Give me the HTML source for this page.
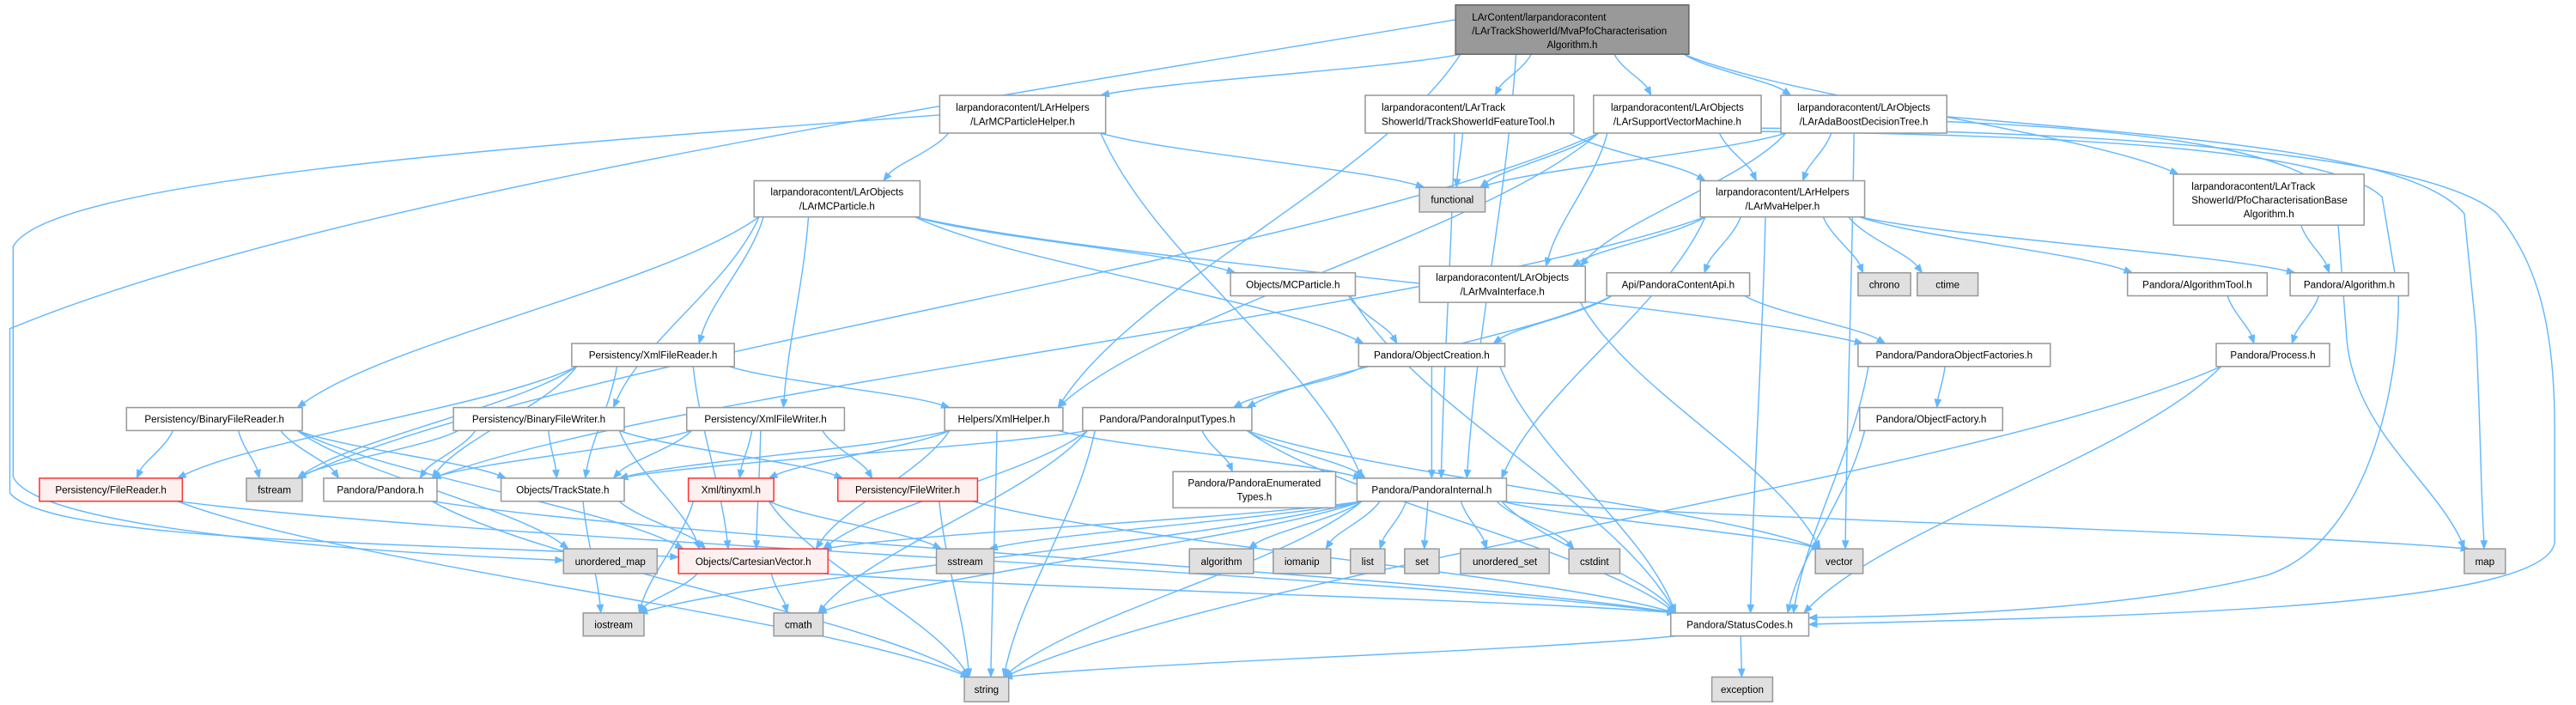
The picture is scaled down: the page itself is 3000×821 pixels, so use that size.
<!DOCTYPE html>
<html><head><meta charset="utf-8"><style>
html,body{margin:0;padding:0;background:#fff;}
svg{display:block;}
text{font-family:"Liberation Sans",Arial,sans-serif;font-size:6.1px;fill:#000;}
</style></head><body>
<svg id="g" xmlns="http://www.w3.org/2000/svg" width="3000" height="821" viewBox="0 0 1568 429" preserveAspectRatio="none">
<g id="edges"></g>
<g id="nodes">
<rect x="886" y="3" width="142" height="30" fill="#999" stroke="#666" stroke-width="0.8"/>
<text x="896" y="12.5">LArContent/larpandoracontent</text><text x="896" y="20.9">/LArTrackShowerId/MvaPfoCharacterisation</text><text x="957" y="29.3" text-anchor="middle">Algorithm.h</text>
<rect x="572" y="58" width="101" height="23" fill="#fff" stroke="#999" stroke-width="0.8"/>
<text x="622.5" y="67.5" text-anchor="middle">larpandoracontent/LArHelpers</text><text x="622.5" y="75.9" text-anchor="middle">/LArMCParticleHelper.h</text>
<rect x="831" y="58" width="127" height="23" fill="#fff" stroke="#999" stroke-width="0.8"/>
<text x="841" y="67.5">larpandoracontent/LArTrack</text><text x="841" y="75.9">ShowerId/TrackShowerIdFeatureTool.h</text>
<rect x="970" y="58" width="102" height="23" fill="#fff" stroke="#999" stroke-width="0.8"/>
<text x="1021" y="67.5" text-anchor="middle">larpandoracontent/LArObjects</text><text x="1021" y="75.9" text-anchor="middle">/LArSupportVectorMachine.h</text>
<rect x="1084" y="58" width="101" height="23" fill="#fff" stroke="#999" stroke-width="0.8"/>
<text x="1134.5" y="67.5" text-anchor="middle">larpandoracontent/LArObjects</text><text x="1134.5" y="75.9" text-anchor="middle">/LArAdaBoostDecisionTree.h</text>
<rect x="1323" y="106" width="116" height="31" fill="#fff" stroke="#999" stroke-width="0.8"/>
<text x="1334" y="115.5">larpandoracontent/LArTrack</text><text x="1334" y="123.9">ShowerId/PfoCharacterisationBase</text><text x="1381" y="132.3" text-anchor="middle">Algorithm.h</text>
<rect x="459" y="110" width="101" height="22" fill="#fff" stroke="#999" stroke-width="0.8"/>
<text x="509.5" y="119" text-anchor="middle">larpandoracontent/LArObjects</text><text x="509.5" y="127.4" text-anchor="middle">/LArMCParticle.h</text>
<rect x="1035" y="110" width="100" height="22" fill="#fff" stroke="#999" stroke-width="0.8"/>
<text x="1085" y="119" text-anchor="middle">larpandoracontent/LArHelpers</text><text x="1085" y="127.4" text-anchor="middle">/LArMvaHelper.h</text>
<rect x="864" y="162" width="101" height="22" fill="#fff" stroke="#999" stroke-width="0.8"/>
<text x="914.5" y="171" text-anchor="middle">larpandoracontent/LArObjects</text><text x="914.5" y="179.4" text-anchor="middle">/LArMvaInterface.h</text>
<rect x="714" y="287" width="99" height="22" fill="#fff" stroke="#999" stroke-width="0.8"/>
<text x="763.5" y="296" text-anchor="middle">Pandora/PandoraEnumerated</text><text x="763.5" y="304.4" text-anchor="middle">Types.h</text>
</g>
</svg>
<script>
var N={
mcpart:[749,166,825,180,'w','Objects/MCParticle.h'],
func:[864,114,904,129,'g','functional'],
api:[978,166,1065,180,'w','Api/PandoraContentApi.h'],
chrono:[1131,166,1163,180,'g','chrono'],
ctime:[1167,166,1204,180,'g','ctime'],
algt:[1295,166,1380,180,'w','Pandora/AlgorithmTool.h'],
alg:[1394,166,1466,180,'w','Pandora/Algorithm.h'],
xfr:[348,209,447,223,'w','Persistency/XmlFileReader.h'],
objc:[827,209,916,223,'w','Pandora/ObjectCreation.h'],
pof:[1131,209,1248,223,'w','Pandora/PandoraObjectFactories.h'],
proc:[1349,209,1418,223,'w','Pandora/Process.h'],
bfr:[77,248,184,262,'w','Persistency/BinaryFileReader.h'],
bfw:[276,248,380,262,'w','Persistency/BinaryFileWriter.h'],
xfw:[418,248,514,262,'w','Persistency/XmlFileWriter.h'],
xh:[575,248,647,262,'w','Helpers/XmlHelper.h'],
pit:[659,248,762,262,'w','Pandora/PandoraInputTypes.h'],
of:[1132,248,1219,262,'w','Pandora/ObjectFactory.h'],
fr:[24,291,111,305,'r','Persistency/FileReader.h'],
fstream:[150,291,184,305,'g','fstream'],
pandora:[197,291,266,305,'w','Pandora/Pandora.h'],
ts:[305,291,380,305,'w','Objects/TrackState.h'],
tiny:[419,291,471,305,'r','Xml/tinyxml.h'],
fw:[510,291,595,305,'r','Persistency/FileWriter.h'],
pint:[826,291,917,305,'w','Pandora/PandoraInternal.h'],
umap:[343,334,400,349,'g','unordered_map'],
cv:[413,334,504,349,'r','Objects/CartesianVector.h'],
sstream:[570,334,605,349,'g','sstream'],
algo:[724,334,763,349,'g','algorithm'],
iomanip:[775,334,810,349,'g','iomanip'],
list:[822,334,843,349,'g','list'],
set:[855,334,876,349,'g','set'],
uset:[889,334,943,349,'g','unordered_set'],
cstdint:[955,334,986,349,'g','cstdint'],
vector:[1105,334,1134,349,'g','vector'],
map:[1500,334,1525,349,'g','map'],
iostream:[355,373,392,387,'g','iostream'],
cmath:[471,373,501,387,'g','cmath'],
sc:[1017,373,1101,387,'w','Pandora/StatusCodes.h'],
string:[587,412,614,427,'g','string'],
exc:[1042,412,1079,427,'g','exception']
};
var B={root:[886,3,1028,33],mcph:[572,58,673,81],tsft:[831,58,958,81],svm:[970,58,1072,81],ada:[1084,58,1185,81],pfob:[1323,106,1439,137],mcp:[459,110,560,132],mvah:[1035,110,1135,132],mvai:[864,162,965,184],penum:[714,287,813,309]};
for(var k in N)B[k]=N[k];
var NS='http://www.w3.org/2000/svg';
var ng=document.getElementById('nodes'),eg=document.getElementById('edges');
function el(t,a,p){var e=document.createElementNS(NS,t);for(var i in a)e.setAttribute(i,a[i]);p.appendChild(e);return e;}
for(var k in N){var n=N[k];var f={w:'#fff',g:'#e0e0e0',r:'#fff0f0'}[n[4]],s={w:'#999',g:'#999',r:'#f33'}[n[4]];
el('rect',{x:n[0],y:n[1],width:n[2]-n[0],height:n[3]-n[1],fill:f,stroke:s,'stroke-width':0.8},ng);
var t=el('text',{x:(n[0]+n[2])/2,y:(n[1]+n[3])/2+2.2,'text-anchor':'middle'},ng);t.textContent=n[5];}
var E=[
['root','mcph'],['root','tsft'],['root','svm'],['root','ada'],['root','pfob'],['root','pint'],['root','xh'],
['mcph','mcp'],['mcph','func'],['mcph','pint'],
['mcp','bfr'],['mcp','bfw'],['mcp','xfr'],['mcp','xfw'],['mcp','mcpart'],['mcp','objc'],['mcp','pof'],
['tsft','func'],['tsft','mvah'],['tsft','pint'],
['svm','func'],['svm','mvah'],['svm','mvai'],['svm','xh'],['svm','fstream'],
['ada','func'],['ada','mvah'],['ada','mvai'],['ada','vector'],
['pfob','alg'],
['mvah','mvai'],['mvah','api'],['mvah','chrono'],['mvah','ctime'],['mvah','algt'],['mvah','alg'],['mvah','pint'],['mvah','sc'],['mvah','pandora'],
['mvai','vector'],['mcpart','objc'],['mcpart','sc'],
['api','objc'],['api','pof'],['api','pit'],
['algt','proc'],['alg','proc'],['proc','sc'],['proc','string'],
['xfr','fr'],['xfr','pandora'],['xfr','ts'],['xfr','xh'],['xfr','cv'],['xfr','fstream'],
['objc','pit'],['objc','pint'],['objc','sc'],
['pof','of'],['pof','sc'],['of','sc'],
['bfr','fr'],['bfr','fstream'],['bfr','pandora'],['bfr','ts'],['bfr','cv'],['bfr','umap'],
['bfw','fstream'],['bfw','pandora'],['bfw','ts'],['bfw','cv'],['bfw','fw'],
['xfw','pandora'],['xfw','ts'],['xfw','tiny'],['xfw','cv'],['xfw','fw'],
['xh','ts'],['xh','tiny'],['xh','cv'],['xh','pint'],['xh','string'],
['pit','penum'],['pit','pint'],['pit','ts'],['pit','cv'],['pit','string'],['pit','sc'],['pit','vector'],['pit','cmath'],
['fr','sc'],['fr','string'],['pandora','sc'],['pandora','string'],
['ts','cv'],['ts','iostream'],['tiny','iostream'],['tiny','string'],['tiny','sstream'],
['fw','sc'],['fw','string'],
['pint','cv'],['pint','sstream'],['pint','algo'],['pint','iomanip'],['pint','list'],['pint','set'],['pint','uset'],['pint','cstdint'],['pint','vector'],['pint','map'],['pint','sc'],['pint','string'],['pint','iostream'],['pint','cmath'],
['cv','iostream'],['cv','cmath'],['cv','sc'],
['sc','exc'],['sc','string']
];
var C='#63b8ff';
function arrow(x,y,cx,cy){var dx=x-cx,dy=y-cy,l=Math.sqrt(dx*dx+dy*dy)||1;dx/=l;dy/=l;
var bx=x-dx*5,by=y-dy*5;el('polygon',{points:x+','+y+' '+(bx-dy*2)+','+(by+dx*2)+' '+(bx+dy*2)+','+(by-dx*2),fill:C,stroke:C,'stroke-width':0.4},eg);return [bx,by];}
function clamp(v,a){return Math.max(-a,Math.min(a,v));}
E.forEach(function(e){var s=B[e[0]],t=B[e[1]];
var scx=(s[0]+s[2])/2,tcx=(t[0]+t[2])/2,sw=(s[2]-s[0])/2,tw=(t[2]-t[0])/2;
var sx,sy,tx,ty,c1x,c1y,c2x,c2y;
if(t[1]>s[3]+4){sy=s[3];ty=t[1];sx=scx+clamp((tcx-scx)*0.4,sw-3);tx=tcx+clamp((scx-tcx)*0.25,tw-3);
var dy=ty-sy;c1x=sx+(tx-sx)*0.2;c1y=sy+dy*0.35;c2x=tx-(tx-sx)*0.2;c2y=ty-dy*0.35;}
else if(t[0]>s[2]){sx=s[2];sy=(s[1]+s[3])/2;tx=t[0];ty=(t[1]+t[3])/2;c1x=sx+(tx-sx)/3;c1y=sy+(ty-sy)/3;c2x=sx+2*(tx-sx)/3;c2y=sy+2*(ty-sy)/3;}
else{sx=s[0];sy=(s[1]+s[3])/2;tx=t[2];ty=(t[1]+t[3])/2;c1x=sx+(tx-sx)/3;c1y=sy+(ty-sy)/3;c2x=sx+2*(tx-sx)/3;c2y=sy+2*(ty-sy)/3;}
var b=arrow(tx,ty,c2x,c2y);
el('path',{d:'M'+sx+','+sy+' C'+c1x+','+c1y+' '+c2x+','+c2y+' '+b[0]+','+b[1],fill:'none',stroke:C,'stroke-width':0.75},eg);});
/* custom long curves: [path-without-last-point, endx, endy, dirx, diry] */
[['M572,70 C300,90 30,110 8,150 L8,290 C20,320 200,335',343,341,300,339],
 ['M886,12 C600,60 200,120 6,200 L6,300 C30,330 250,330',413,339,380,337],
 ['M1072,78 C1300,80 1480,95 1520,130 C1545,160 1555,200 1555,260 L1555,330 C1550,370 1300,375',1101,380,1140,378],
 ['M1185,71 C1350,85 1470,95 1500,130 L1507,200 C1510,260 1510,300',1512,334,1512,320],
 ['M1072,80 C1250,82 1420,90 1450,120 L1460,180 C1460,240 1440,330 1380,350 C1300,370 1180,375',1101,376,1140,374],
 ['M1185,74 C1330,80 1400,95 1422,120 L1428,200 C1430,260 1480,290',1500,334,1495,320]
].forEach(function(p){
var b=arrow(p[1],p[2],p[3],p[4]);el('path',{d:p[0]+' '+b[0]+','+b[1],fill:'none',stroke:C,'stroke-width':0.75},eg);});
</script>
</body></html>
